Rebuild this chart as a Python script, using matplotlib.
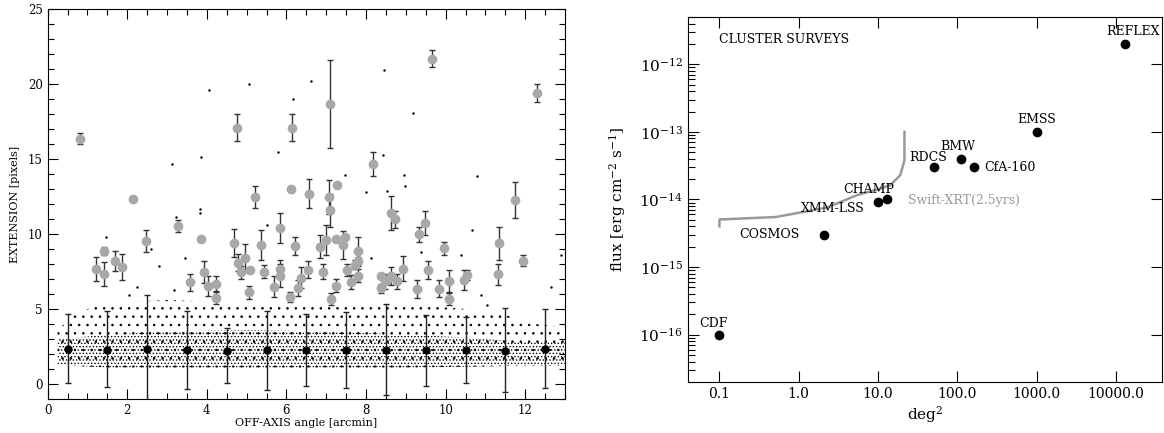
import numpy as np
import matplotlib
matplotlib.use('Agg')
import matplotlib.pyplot as plt
from matplotlib.ticker import (MultipleLocator, NullLocator, NullFormatter, FixedLocator,
                               LogLocator, LogFormatterMathtext)

plt.rcParams['font.family'] = 'DejaVu Serif'
plt.rcParams['mathtext.fontset'] = 'dejavuserif'

# ---------------- left panel data: extension vs off-axis angle ----------------
# binned mean extension (black points) with lower/upper ends of the bars
bin_x = [0.5, 1.5, 2.5, 3.5, 4.5, 5.5, 6.5, 7.5, 8.5, 9.5, 10.5, 11.5, 12.5]
bin_y = [2.36, 2.30, 2.35, 2.25, 2.20, 2.25, 2.27, 2.27, 2.27, 2.27, 2.27, 2.22, 2.36]
bin_lo = [0.07, -0.18, -1.30, -0.33, 0.07, -0.40, -0.15, -0.24, -0.73, -0.11, 0.07, -0.50, -0.26]
bin_hi = [4.67, 4.90, 5.96, 4.85, 3.71, 4.90, 4.70, 4.79, 5.34, 4.59, 4.50, 5.05, 4.99]

# extended sources (grey points)
ext_x = [0.82, 2.14, 4.75, 5.21, 6.15, 6.12, 7.10, 9.66, 12.29, 8.17,
         6.58, 7.26, 7.07, 7.10, 8.62, 8.73, 9.49, 11.75, 5.85, 6.21,
         6.84, 7.00, 7.25, 7.42, 7.46, 7.79, 7.79, 7.73, 7.80, 7.53,
         7.63, 7.24, 7.11, 6.91, 6.54, 6.37, 6.30, 6.08, 8.37, 8.37,
         8.47, 8.54, 8.62, 8.77, 8.93, 9.28, 9.34, 9.55, 9.83, 9.95,
         10.09, 10.09, 10.47, 10.53, 11.33, 11.31, 11.94, 1.22, 1.42, 1.42,
         1.70, 1.88, 2.47, 3.27, 3.86, 3.59, 3.92, 4.02, 4.22, 4.22,
         4.68, 4.79, 4.85, 4.95, 5.08, 5.06, 5.35, 5.43, 5.70, 5.84, 5.84]
ext_y = [16.34, 12.36, 17.10, 12.47, 17.10, 12.98, 18.65, 21.70, 19.38, 14.68,
         12.70, 13.25, 12.47, 11.59, 11.41, 10.97, 10.71, 12.25, 10.37, 9.20,
         9.16, 9.60, 9.65, 9.27, 9.82, 8.89, 8.17, 7.95, 7.22, 7.62,
         6.82, 6.56, 5.67, 7.50, 7.62, 7.07, 6.40, 5.81, 6.40, 7.22,
         6.84, 6.95, 7.17, 6.84, 7.68, 6.34, 10.00, 7.57, 6.34, 9.05,
         6.84, 5.70, 6.91, 7.28, 9.38, 7.31, 8.23, 7.66, 8.89, 7.35,
         8.21, 7.79, 9.54, 10.53, 9.67, 6.78, 7.44, 6.56, 6.67, 5.74,
         9.42, 8.10, 7.44, 8.39, 7.62, 6.11, 9.27, 7.50, 6.47, 7.68, 7.22]
ext_err = [0.37, 0.12, 0.90, 0.75, 0.90, 0.18, 2.93, 0.55, 0.60, 0.80,
           0.95, 0.10, 1.15, 1.10, 1.15, 0.58, 0.80, 1.20, 1.00, 0.60,
           0.77, 1.00, 0.10, 0.93, 0.10, 0.93, 0.30, 0.30, 0.45, 0.40,
           0.47, 0.44, 0.40, 0.50, 0.58, 0.70, 0.55, 0.35, 0.30, 0.15,
           0.50, 0.30, 0.60, 0.50, 0.83, 0.60, 0.50, 0.60, 0.57, 0.45,
           0.78, 0.42, 0.66, 0.35, 1.10, 0.72, 0.38, 0.80, 0.27, 0.80,
           0.66, 0.85, 0.72, 0.38, 0.12, 0.58, 0.73, 0.66, 0.50, 0.40,
           0.94, 0.55, 0.45, 0.94, 0.15, 0.45, 1.00, 0.44, 0.70, 0.60, 0.75]

# isolated point-like sources lying well above the main cloud
stray_x = [4.05, 5.07, 6.16, 3.13, 3.86, 5.80, 3.82, 3.82, 3.23, 6.61,
           8.46, 9.18, 8.43, 7.47, 8.96, 10.79, 8.97, 8.00, 8.53, 1.47,
           2.60, 2.79, 2.24, 2.04, 3.46, 3.17, 5.52, 10.67, 10.39, 10.89,
           11.05, 12.66, 12.90, 9.38, 8.12]
stray_y = [19.58, 19.98, 19.03, 14.68, 15.12, 15.45, 11.70, 11.40, 11.15, 20.20,
           20.93, 18.10, 15.30, 13.95, 13.95, 13.86, 13.20, 12.80, 12.87, 9.78,
           9.00, 7.90, 6.47, 5.96, 8.39, 6.29, 10.60, 10.30, 8.61, 5.96,
           5.30, 6.50, 8.60, 8.83, 8.39]

# envelope of the cloud of point sources (outer sparse part and dense core)
cloud_x = [0.25, 0.75, 1.5, 3.0, 5.0, 7.0, 9.0, 10.5, 11.5, 12.25, 13.0]
cloud_bot = [1.3, 1.2, 1.1, 1.1, 1.1, 1.1, 1.1, 1.15, 1.2, 1.2, 1.2]
cloud_top = [3.6, 4.8, 5.4, 5.6, 5.4, 5.5, 5.3, 5.0, 4.6, 4.0, 3.8]
core_top = [3.0, 3.1, 3.3, 3.5, 3.6, 3.5, 3.3, 3.1, 2.9, 2.8, 2.8]

# ---------------- right panel data: cluster surveys ----------------
survey_names = ['CDF', 'COSMOS', 'XMM-LSS', 'CHAMP', 'RDCS', 'BMW', 'CfA-160', 'EMSS', 'REFLEX']
survey_area = [0.1, 2.1, 10.0, 13.0, 50.0, 110.0, 160.0, 1000.0, 13000.0]
survey_flux = [1e-16, 3.0e-15, 9.2e-15, 1.0e-14, 3.0e-14, 4.0e-14, 3.0e-14, 1.0e-13, 2.0e-12]

swift_area = [0.1, 0.1, 0.51, 2.28, 5.45, 10.7, 14.3, 19.1, 21.5, 21.5]
swift_flux = [4.0e-15, 5.06e-15, 5.5e-15, 7.6e-15, 1.16e-14, 1.45e-14, 1.63e-14, 2.3e-14, 3.8e-14, 1.0e-13]

area_ticks = [0.1, 1.0, 10.0, 100.0, 1000.0, 10000.0]
area_labels = ['0.1', '1.0', '10.0', '100.0', '1000.0', '10000.0']
flux_ticks = [1e-16, 1e-15, 1e-14, 1e-13, 1e-12]

fig = plt.figure(figsize=(11.64, 4.33), dpi=100)

# ==========================================
# Left panel
# ==========================================
ax1 = fig.add_axes([0.0409, 0.0785, 0.4445, 0.9007])

# dot cloud drawn as dotted textures inside its envelopes
plt.rcParams['hatch.linewidth'] = 0.6
ax1.fill_between(cloud_x, cloud_bot, cloud_top, facecolor='none', edgecolor='k',
                 linewidth=0, hatch='..')
ax1.fill_between(cloud_x, cloud_bot, core_top, facecolor='none', edgecolor='k',
                 linewidth=0, hatch='.....')
ax1.plot(stray_x, stray_y, 'k.', ms=1.5)

ax1.errorbar(ext_x, ext_y, yerr=ext_err, fmt='o', color='#a8a8a8', mec='#a8a8a8', ms=6,
             ecolor='#333333', elinewidth=1.0, capsize=2.5, capthick=1.0, zorder=3)

bin_y = np.array(bin_y)
yerr_bins = [bin_y - np.array(bin_lo), np.array(bin_hi) - bin_y]
ax1.errorbar(bin_x, bin_y, yerr=yerr_bins, fmt='o', color='k', ms=5,
             ecolor='#222222', elinewidth=1.0, capsize=2.5, capthick=1.0, zorder=4)

ax1.set_xlim(0, 13)
ax1.set_ylim(-1, 25)
ax1.xaxis.set_major_locator(MultipleLocator(2))
ax1.xaxis.set_minor_locator(MultipleLocator(0.5))
ax1.yaxis.set_major_locator(MultipleLocator(5))
ax1.yaxis.set_minor_locator(MultipleLocator(1))
ax1.tick_params(which='both', direction='in', top=True, right=True, labelsize=8.5, width=0.8)
ax1.tick_params(which='major', length=7)
ax1.tick_params(which='minor', length=4)
ax1.set_xlabel('OFF-AXIS angle [arcmin]', fontsize=8, labelpad=1)
ax1.set_ylabel('EXTENSION [pixels]', fontsize=8, labelpad=6)

# ==========================================
# Right panel
# ==========================================
ax2 = fig.add_axes([0.5908, 0.1178, 0.4075, 0.843])
ax2.set_xscale('log')
ax2.set_yscale('log')

ax2.plot(swift_area, swift_flux, color='#999999', lw=1.8)
ax2.plot(survey_area, survey_flux, 'o', color='k', ms=6)

# label offsets in points from each survey point
label_style = {
    'CDF': ((-4, 8), 'center'),
    'COSMOS': ((-18, 0), 'right'),
    'XMM-LSS': ((-10, -5), 'right'),
    'CHAMP': ((-13, 7), 'center'),
    'RDCS': ((-4, 7), 'center'),
    'BMW': ((-2, 9), 'center'),
    'CfA-160': ((8, 0), 'left'),
    'EMSS': ((0, 9), 'center'),
    'REFLEX': ((6, 9), 'center'),
}
for name, a, f in zip(survey_names, survey_area, survey_flux):
    off, ha = label_style[name]
    ax2.annotate(name, (a, f), xytext=off, textcoords='offset points',
                 ha=ha, va='center', fontsize=9)

ax2.text(0.1, 2.3e-12, 'CLUSTER SURVEYS', ha='left', va='center', fontsize=9)
ax2.text(23.7, 9.8e-15, 'Swift-XRT(2.5yrs)', ha='left', va='center', fontsize=9,
         color='#999999')

ax2.set_xlim(0.0398, 38000)
ax2.set_ylim(2.0e-17, 5.0e-12)
ax2.xaxis.set_major_locator(FixedLocator(area_ticks))
ax2.xaxis.set_minor_locator(NullLocator())
ax2.set_xticklabels(area_labels)
ax2.yaxis.set_major_locator(FixedLocator(flux_ticks))
ax2.yaxis.set_minor_locator(LogLocator(base=10, subs=np.arange(2, 10)))
ax2.yaxis.set_major_formatter(LogFormatterMathtext())
ax2.yaxis.set_minor_formatter(NullFormatter())
ax2.tick_params(which='both', direction='in', top=True, right=True, width=0.8)
ax2.tick_params(which='major', length=8, labelsize=10)
ax2.tick_params(axis='y', which='major', labelsize=11)
ax2.tick_params(which='minor', length=5, right=False)
ax2.set_xlabel('deg$^2$', fontsize=11, labelpad=2)
ax2.set_ylabel('flux [erg cm$^{-2}$ s$^{-1}$]', fontsize=11, labelpad=8)

fig.savefig('out.png', dpi=100)
